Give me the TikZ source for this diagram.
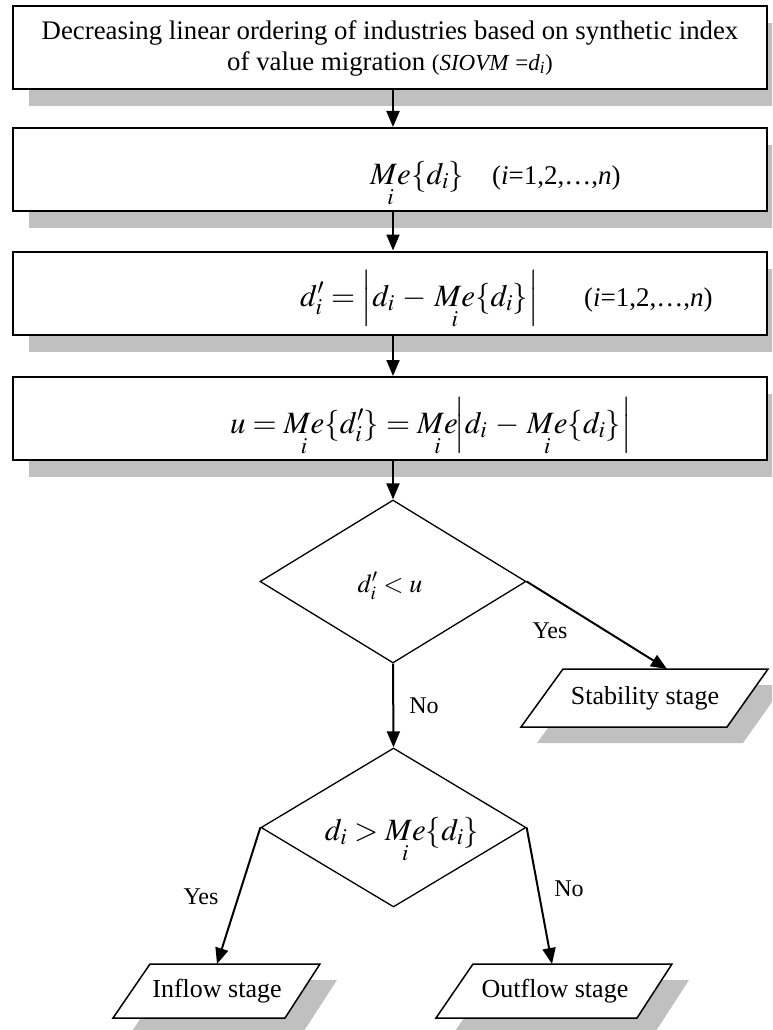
\documentclass[tikz,border=0pt]{standalone}
\usepackage{mathptmx}
\usepackage{fontspec}
\setmainfont{Liberation Serif}
\usetikzlibrary{shadows,arrows.meta,calc,shapes.geometric}
\definecolor{shgray}{RGB}{192,192,192}
\tikzset{
  myshadow/.style={drop shadow={shadow xshift=16pt, shadow yshift=-17pt, fill=shgray, opacity=1}},
  flowbox/.style={draw, line width=2pt, fill=white, minimum width=754pt, minimum height=83pt, inner sep=0pt, myshadow},
  decision/.style={diamond, draw, line width=1.3pt, fill=white, inner sep=0pt},
  stageline/.style={draw, line width=1.5pt, fill=white, line join=miter},
  stageshadow/.style={fill=shgray},
  stagetext/.style={font=\fontsize{26}{30}\selectfont, inner sep=0pt},
  flow/.style={-{Triangle[length=16pt,width=13pt]}, line width=2pt},
  lbl/.style={font=\fontsize{24}{28}\selectfont, inner sep=0pt},
  formula/.style={font=\fontsize{31}{36}\selectfont, inner sep=0pt},
  idx/.style={font=\fontsize{27}{30}\selectfont, inner sep=0pt}
}
\begin{document}
\begin{tikzpicture}[x=1pt,y=-1pt]
\useasboundingbox (0,0) rectangle (772,1030);
\clip (0,0) rectangle (772,1030);
% boxes
\node[flowbox] (b1) at (390,48) {};
\node[flowbox] (b2) at (390,169.5) {};
\node[flowbox] (b3) at (390,293) {};
\node[flowbox] (b4) at (390,418.5) {};
% box texts
\node[lbl, align=center, font=\fontsize{26.8}{31}\selectfont] (t1) at (390,48)
  {Decreasing linear ordering of industries based on synthetic index\\
   of value migration {\fontsize{23}{28}\selectfont(\textit{SIOVM} =\textit{d}\textsubscript{\textit{i}})}};
\node[formula, anchor=base west] (t2) at (370,184) {$\mathop{Me}\limits_{i}\{d_{i}\}$};
\node[idx, anchor=base west] (t2b) at (492,184) {(\textit{i}=1,2,…,\textit{n})};
\node[formula, anchor=base west] (t3) at (300,306) {$d_{i}^{\prime}=\Bigl|d_{i}\,-\,\mathop{Me}\limits_{i}\{d_{i}\}\Bigr|$};
\node[idx, anchor=base west] (t3b) at (584,306) {(\textit{i}=1,2,…,\textit{n})};
\node[formula, anchor=base west] (t4) at (230,433) {$u=\mathop{Me}\limits_{i}\{d_{i}^{\prime}\}=\mathop{Me}\limits_{i}\mkern-2mu\Bigl|d_{i}\,-\,\mathop{Me}\limits_{i}\{d_{i}\}\Bigr|$};
% decisions
\node[decision, minimum width=266pt, minimum height=163pt] (d1) at (393,581.5) {};
\node[font=\fontsize{26}{30}\selectfont, inner sep=0pt] (t5) at (390,586) {$d_{i}^{\prime}<u$};
\node[decision, minimum width=265pt, minimum height=159pt] (d2) at (393.5,827.5) {};
\node[font=\fontsize{31}{34}\selectfont, inner sep=0pt, anchor=base] (t6) at (402,840) {$d_{i}>\mathop{Me}\limits_{i}\{d_{i}\}$};
% stages (parallelograms)
\fill[stageshadow] (579,685) -- (784,685) -- (743,743) -- (537,743) -- cycle;
\path[stageline] (563,669) -- (768,669) -- (727,727) -- (521,727) -- cycle;
\node[stagetext] (s1) at (645,698) {Stability stage};
\coordinate (s1in) at (667,669);
\fill[stageshadow] (167,980) -- (337,980) -- (302,1034) -- (130,1034) -- cycle;
\path[stageline] (150,964) -- (320,964) -- (285,1018) -- (113,1018) -- cycle;
\node[stagetext] (s2) at (217,991) {Inflow stage};
\coordinate (s2in) at (217,964);
\fill[stageshadow] (490,980) -- (689,980) -- (654,1034) -- (453,1034) -- cycle;
\path[stageline] (473,964) -- (672,964) -- (637,1018) -- (436,1018) -- cycle;
\node[stagetext] (s3) at (555,991) {Outflow stage};
\coordinate (s3in) at (552,964);
% connectors
\draw[flow] (b1.south -| d1.north) -- (b2.north -| d1.north);
\draw[flow] (b2.south -| d1.north) -- (b3.north -| d1.north);
\draw[flow] (b3.south -| d1.north) -- (b4.north -| d1.north);
\draw[flow] (b4.south -| d1.north) -- (d1.north);
\draw[flow] (d1.south) -- (d2.north);
\draw[flow] (d1.east) -- (s1in);
\draw[flow] (d2.west) -- (s2in);
\draw[flow] (d2.east) -- (s3in);
% labels
\node[lbl] (y1) at (550,631) {Yes};
\node[lbl] (n1) at (424,706) {No};
\node[lbl] (y2) at (201,897) {Yes};
\node[lbl] (n2) at (569,889) {No};
\end{tikzpicture}
\end{document}
